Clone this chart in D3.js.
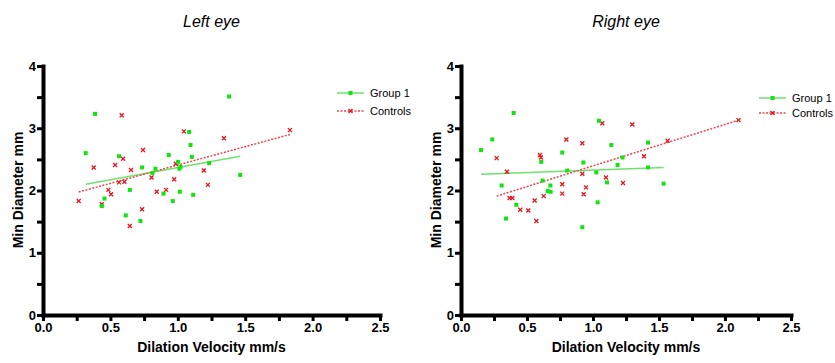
<!DOCTYPE html>
<html>
<head>
<meta charset="utf-8">
<script src="https://cdn.jsdelivr.net/npm/d3@7"></script>
<style>
  body { margin: 0; background: #fff; }
  svg { display: block; font-family: "Liberation Sans", Arial, sans-serif; }
</style>
</head>
<body>
<div id="chart"></div>
<script>
// tick labels
const xTickValues = [0, 0.25, 0.5, 0.75, 1, 1.25, 1.5, 1.75, 2, 2.25, 2.5];
const xTickLabels = ["0.0", "0.5", "1.0", "1.5", "2.0", "2.5"];
const yTickValues = [0, 0.5, 1, 1.5, 2, 2.5, 3, 3.5, 4];
const yTickLabels = ["0", "1", "2", "3", "4"];
const seriesNames = ["Group 1", "Controls"];

// left eye: [dilation velocity, min diameter]
const leftGroup1 = [
  [1.381, 3.51], [0.386, 3.23], [1.084, 2.94], [1.094, 2.73], [0.317, 2.60],
  [0.564, 2.55], [0.933, 2.57], [1.104, 2.54], [1.002, 2.46], [1.233, 2.44],
  [0.735, 2.37], [0.834, 2.35], [1.020, 2.38], [1.012, 2.35], [0.812, 2.28],
  [1.463, 2.25], [0.644, 2.01], [1.015, 1.98], [0.894, 1.95], [1.114, 1.93],
  [0.456, 1.87], [0.963, 1.83], [0.436, 1.75], [0.614, 1.60], [0.723, 1.51]
];
const leftControls = [
  [0.584, 3.21], [1.045, 2.95], [1.832, 2.97], [1.342, 2.84], [0.742, 2.65],
  [0.594, 2.51], [0.376, 2.37], [0.535, 2.41], [0.653, 2.33], [0.985, 2.43],
  [1.193, 2.32], [0.805, 2.21], [0.973, 2.18], [0.564, 2.13], [0.604, 2.14],
  [1.223, 2.09], [0.485, 2.01], [0.505, 1.94], [0.844, 1.98], [0.913, 2.01],
  [0.265, 1.83], [0.436, 1.78], [0.735, 1.70], [0.644, 1.43]
];
const leftFitGroup1 = [[0.317, 2.10], [1.463, 2.55]];
const leftFitControls = [[0.265, 1.976], [1.832, 2.90]];

// right eye
const rightGroup1 = [
  [0.399, 3.245], [1.045, 3.12], [0.237, 2.82], [0.152, 2.65], [1.139, 2.73],
  [1.417, 2.77], [0.767, 2.61], [0.608, 2.46], [0.927, 2.45], [1.224, 2.53],
  [1.186, 2.41], [0.805, 2.32], [1.025, 2.29], [1.417, 2.37], [0.618, 2.16],
  [1.106, 2.13], [0.308, 2.08], [0.677, 2.08], [1.535, 2.11], [0.656, 1.99],
  [0.679, 1.98], [0.419, 1.77], [1.035, 1.81], [0.341, 1.55], [0.919, 1.41]
];
const rightControls = [
  [1.070, 3.08], [1.298, 3.06], [2.103, 3.13], [0.798, 2.82], [0.919, 2.76],
  [1.565, 2.80], [0.598, 2.57], [0.606, 2.53], [0.270, 2.52], [1.386, 2.55],
  [0.348, 2.30], [0.919, 2.27], [1.098, 2.21], [1.227, 2.12], [0.767, 2.10],
  [0.947, 2.05], [0.767, 1.95], [0.929, 1.94], [0.626, 1.91], [0.368, 1.88],
  [0.389, 1.88], [0.558, 1.84], [0.449, 1.69], [0.510, 1.68], [0.571, 1.51]
];
const rightFitGroup1 = [[0.152, 2.26], [1.535, 2.37]];
const rightFitControls = [[0.270, 1.91], [2.103, 3.13]];

const width = 835;
const height = 363;
const green = "#12e412";
const red = "#e3141e";

const svg = d3.select("#chart").append("svg")
  .attr("width", width)
  .attr("height", height);

const panels = [
  { title: "Left eye", left: 43, right: 380, g1: leftGroup1, ctl: leftControls,
    fitG1: leftFitGroup1, fitCtl: leftFitControls, legX: 337, legY: 93, legGap: 18 },
  { title: "Right eye", left: 461, right: 791, g1: rightGroup1, ctl: rightControls,
    fitG1: rightFitGroup1, fitCtl: rightFitControls, legX: 759, legY: 98, legGap: 15 }
];

const drawX = (sel, size) => sel.append("path")
  .attr("d", `M${-size},${-size}L${size},${size}M${-size},${size}L${size},${-size}`)
  .attr("stroke", red)
  .attr("stroke-width", 1.3)
  .attr("fill", "none");

const drawSquare = (sel, size) => sel.append("rect")
  .attr("x", -size / 2).attr("y", -size / 2)
  .attr("width", size).attr("height", size)
  .attr("fill", green);

// thick black axis look
const styleAxis = g => {
  g.select(".domain")
    .style("stroke", "#000")
    .style("stroke-width", "4px")
    .style("stroke-linecap", "square");
  g.selectAll(".tick line")
    .style("stroke", "#000")
    .style("stroke-width", "3px");
  g.selectAll(".tick text")
    .style("fill", "#000")
    .style("font-size", "13px")
    .style("font-weight", "bold");
};

panels.forEach(p => {
  const x = d3.scaleLinear().domain([0, 2.5]).range([p.left, p.right]);
  const y = d3.scaleLinear().domain([0, 4]).range([315, 66]);

  // title
  svg.append("text")
    .attr("x", (p.left + p.right) / 2)
    .attr("y", 27)
    .attr("text-anchor", "middle")
    .style("font-size", "16px")
    .style("font-style", "italic")
    .text(p.title);

  // fit lines
  const line = d3.line().x(d => x(d[0])).y(d => y(d[1]));
  svg.append("path")
    .attr("d", line(p.fitG1))
    .attr("stroke", "#6ee26e")
    .attr("stroke-width", 1.5)
    .attr("fill", "none");
  svg.append("path")
    .attr("d", line(p.fitCtl))
    .attr("stroke", "#e8474f")
    .attr("stroke-width", 1.5)
    .attr("stroke-dasharray", "2,1.5")
    .attr("fill", "none");

  // points
  svg.append("g").selectAll("g")
    .data(p.ctl)
    .join("g")
    .attr("transform", d => `translate(${x(d[0])},${y(d[1])})`)
    .call(s => drawX(s, 2));

  svg.append("g").selectAll("g")
    .data(p.g1)
    .join("g")
    .attr("transform", d => `translate(${x(d[0])},${y(d[1])})`)
    .call(s => drawSquare(s, 4));

  // axes
  svg.append("g")
    .attr("transform", "translate(0,315)")
    .call(d3.axisBottom(x)
      .tickValues(xTickValues)
      .tickSize(6)
      .tickSizeOuter(0)
      .tickPadding(2)
      .tickFormat(d => (Math.round(d * 100) % 50 === 0) ? xTickLabels[Math.round(d * 2)] : ""))
    .call(styleAxis);

  svg.append("g")
    .attr("transform", `translate(${p.left},0)`)
    .call(d3.axisLeft(y)
      .tickValues(yTickValues)
      .tickSize(6)
      .tickSizeOuter(0)
      .tickPadding(1)
      .tickFormat(d => Number.isInteger(d) ? yTickLabels[d] : ""))
    .call(styleAxis);

  // axis titles
  svg.append("text")
    .attr("x", (p.left + p.right) / 2)
    .attr("y", 352)
    .attr("text-anchor", "middle")
    .style("font-size", "14px")
    .style("font-weight", "bold")
    .text("Dilation Velocity mm/s");

  svg.append("text")
    .attr("transform", `translate(${p.left - 20},190) rotate(-90)`)
    .attr("text-anchor", "middle")
    .style("font-size", "14px")
    .style("font-weight", "bold")
    .text("Min Diameter mm");

  // legend
  const leg = svg.append("g").attr("transform", `translate(${p.legX},${p.legY})`);
  seriesNames.forEach((name, i) => {
    const row = leg.append("g").attr("transform", `translate(0,${i * p.legGap})`);
    row.append("line")
      .attr("x1", 0).attr("x2", 27)
      .attr("stroke", i === 0 ? "#6ee26e" : "#e8474f")
      .attr("stroke-width", 1.5)
      .attr("stroke-dasharray", i === 0 ? null : "2,1.5");
    const m = row.append("g").attr("transform", "translate(13.5,0)");
    if (i === 0) drawSquare(m, 4); else drawX(m, 2);
    row.append("text")
      .attr("x", 33)
      .attr("y", 4)
      .style("font-size", "11px")
      .text(name);
  });
});
</script>
</body>
</html>
